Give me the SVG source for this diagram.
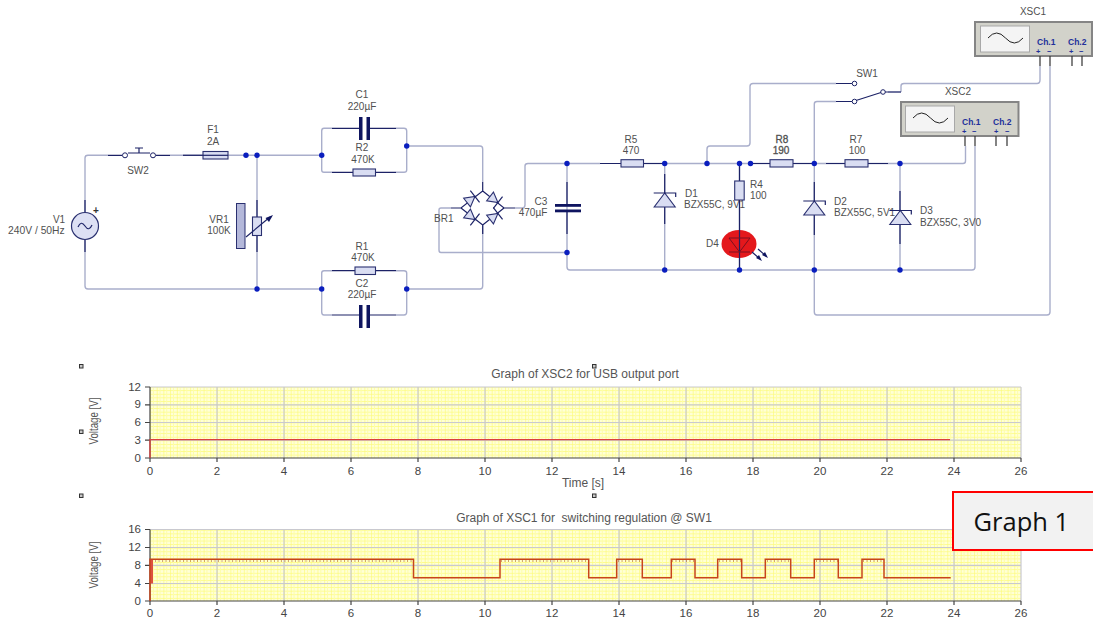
<svg xmlns="http://www.w3.org/2000/svg" width="1093" height="620" viewBox="0 0 1093 620">
<style>
text{font-family:"Liberation Sans",Arial,sans-serif;font-size:10px;fill:#505050}
.m{text-anchor:middle}
.e{text-anchor:end}
.w{fill:none;stroke:#a9aecb;stroke-width:1.4;stroke-linejoin:round}
.l{fill:none;stroke:#1c2266;stroke-width:1.2}
.b{fill:#d9ddf2;stroke:#2a3070;stroke-width:1.1}
.plate{fill:#0f1560;stroke:none}
.dot{fill:#0a1ebe}
.tick{font-size:11.5px;fill:#444}
.ttl{font-size:12px;fill:#555}
.ch{font-size:8.500px;font-weight:bold;fill:#22309a}
.sg{font-size:7.500px;font-weight:bold;fill:#22309a}
.axis{fill:none;stroke:#444;stroke-width:1.2}
.major{fill:none;stroke:#c9c9cf;stroke-width:1.2}
.t1{fill:none;stroke:#dc3f3f;stroke-width:1.3}
.t2{fill:none;stroke:#c8451c;stroke-width:1.5}
.ripple{fill:none;stroke:#a8501c;stroke-width:1;stroke-dasharray:1 2.500}
.handle{fill:#c8c8c8;stroke:#333;stroke-width:1}
.scope{fill:#d2d2ca;stroke:#858585;stroke-width:2}
.screen{fill:#f4f4f4;stroke:#a8a8a8;stroke-width:1}
.pin{fill:none;stroke:#333;stroke-width:1.2}
.sine{fill:none;stroke:#222;stroke-width:1}
</style>
<defs>
<pattern id="grid" x="150" y="0" width="6.7" height="3.58" patternUnits="userSpaceOnUse">
<rect width="6.7" height="3.58" fill="#ffffd6"/>
<path d="M0 0V3.58M0 0H6.7" stroke="#fdfb78" stroke-width="1.3" fill="none"/>
<path d="M3.35 0V3.58" stroke="#fefea8" stroke-width="1" fill="none"/>
</pattern>
<circle id="n" class="dot" r="2.700"/>
<g id="zener"><path class="b" d="M0 0L-10.500 14H10.500Z"/><path class="l" d="M-11 0H11V4"/></g>
<g id="br"><path class="b" d="M-5 -5.500V5.500L5 0Z"/><path class="l" d="M5 -7.500V7.500"/></g>
</defs>

<g id="connectors">
<path class="w" d="M85 212V158Q85 155.300 88 155.300H108M170 155.300H203M228 155.300H321.700M257 155.300V289M85 240V286Q85 289 88 289H321.700"/>
<path class="w" d="M321.700 155.300V131Q321.700 128.300 324 128.300H332M396 128.300H404Q406.700 128.300 406.700 131V170Q406.700 172.300 404 172.300H396M332 172.300H324Q321.700 172.300 321.700 170V155"/>
<path class="w" d="M321.700 289V273Q321.700 270.700 324 270.700H332M396 270.700H404Q406.700 270.700 406.700 273V312Q406.700 315 404 315H396M332 315H324Q321.700 315 321.700 312V289"/>
<path class="w" d="M406.700 146H480Q482.700 146 482.700 149V182M482.700 225V286Q482.700 289 480 289H406.700"/>
<path class="w" d="M451 208H441Q439 208 439 210V250Q439 252.500 441 252.500H567M515 208H522Q525 208 525 205V166Q525 163.500 528 163.500H600M643 163.500H770M793.500 163.500H845M868 163.500H963Q965.500 163.500 965.500 161V146"/>
<path class="w" d="M567 163.500V267Q567 270 570 270H972Q975 270 975 267V146"/>
<path class="w" d="M664.700 163.500V270M739.500 163.500V270M814.300 104V312Q814.300 315 817 315H1047Q1050 315 1050 312V66M900 163.500V270"/>
<path class="w" d="M707 163.500V149Q707 146 710 146H747Q750 146 750 143V86.500Q750 83.500 753 83.500H836M814.300 104Q814.300 101.500 817 101.500H836M901 92V86Q901 83.500 904 83.500H1037Q1040 83.500 1040 80V66M888 92H901"/>
</g>

<g id="V1"><circle cx="85" cy="226" r="13.500" fill="#dde0f4" stroke="#2a3070" stroke-width="1.200"/><path class="l" d="M78 227Q81 220 85 226T92 225"/><path class="l" d="M85 200V212M85 240V252"/><text x="93" y="214" style="font-size:10px;font-weight:bold;fill:#333">+</text><text class="m" x="59" y="223">V1</text><text x="8" y="234" style="font-size:10.300px">240V / 50Hz</text></g>
<g id="SW2"><path class="l" d="M108 155.300H122M156 155.300H170M128 153H150M139 153V148M135 148H143"/><circle cx="125" cy="155.300" r="2.500" fill="#fff" stroke="#1c2266"/><circle cx="153" cy="155.300" r="2.500" fill="#fff" stroke="#1c2266"/><text class="m" x="138" y="174">SW2</text></g>
<g id="F1"><path class="l" d="M183 155.300H203"/><rect class="b" x="203" y="151.500" width="25" height="7.500"/><path class="l" d="M203 155.300H228"/><text class="m" x="213" y="133">F1</text><text class="m" x="213" y="145">2A</text></g>
<g id="VR1"><rect x="236.500" y="203.500" width="8.500" height="45" fill="#b4b8da" stroke="#2a3070"/><path class="l" d="M257 200V217M257 235.500V252"/><rect class="b" x="252.500" y="217" width="9" height="18.500"/><path class="l" d="M246 237L270 217"/><path class="plate" d="M273 215L265.500 218L269 222Z"/><text class="m" x="219" y="223">VR1</text><text class="m" x="219" y="234">100K</text></g>
<g id="C1"><path class="l" d="M332 128.300H359M370 128.300H396"/><path class="plate" d="M359 117H362.500V140H359ZM366.500 117H370V140H366.500Z"/><text class="m" x="362" y="98">C1</text><text class="m" x="362" y="110">220µF</text></g>
<g id="R2"><path class="l" d="M332 172.300H353M376 172.300H396"/><rect class="b" x="353" y="169" width="22.500" height="7"/><text class="m" x="362" y="151">R2</text><text class="m" x="363" y="163">470K</text></g>
<g id="R1"><path class="l" d="M332 270.700H355M376 270.700H396"/><rect class="b" x="355" y="267" width="20.500" height="7.500"/><text class="m" x="362" y="250">R1</text><text class="m" x="363" y="261">470K</text></g>
<g id="C2"><path class="l" d="M332 315H359M370 315H396"/><path class="plate" d="M359 305H362.500V328H359ZM366.500 305H370V328H366.500Z"/><text class="m" x="362" y="287">C2</text><text class="m" x="362" y="298">220µF</text></g>
<g id="BR1"><path class="l" d="M482.700 182V191L461 208H451M482.700 191L504 208H515M461 208L482.700 225L504 208M482.700 225V234"/><use href="#br" transform="translate(471 199.500) rotate(-38)"/><use href="#br" transform="translate(494 199.500) rotate(38)"/><use href="#br" transform="translate(471 216.500) rotate(38)"/><use href="#br" transform="translate(494 216.500) rotate(-38)"/><text x="434" y="222">BR1</text></g>
<g id="C3"><path class="l" d="M567 182V205M567 211V234"/><rect class="plate" x="555" y="204" width="26" height="2.800"/><rect class="plate" x="555" y="209.500" width="26" height="2.800"/><text class="m" x="541" y="205">C3</text><text class="m" x="533" y="216">470µF</text></g>
<g id="R5"><path class="l" d="M600 163.500H621M643 163.500H664"/><rect class="b" x="621" y="159.700" width="22.500" height="7.300"/><text class="m" x="631" y="143">R5</text><text class="m" x="631" y="154">470</text></g>
<g id="D1"><path class="l" d="M664.700 174V224"/><use href="#zener" x="664.700" y="193"/><text x="685" y="197">D1</text><text x="684" y="208">BZX55C, 9V1</text></g>
<g id="R8"><path class="l" d="M750 163.500H770M793 163.500H814"/><rect class="b" x="770" y="159.700" width="23" height="7.300"/><text class="m" x="782" y="143" style="stroke:#505050;stroke-width:.3">R8</text><text class="m" x="781" y="154" style="stroke:#505050;stroke-width:.3">190</text></g>
<g id="R7"><path class="l" d="M826 163.500H845M868 163.500H888"/><rect class="b" x="845" y="159.700" width="23" height="7.300"/><text class="m" x="856" y="143">R7</text><text class="m" x="857" y="154">100</text></g>
<g id="R4"><path class="l" d="M739.500 163.500V181M739.500 200V222"/><rect class="b" x="734.700" y="181" width="9.500" height="19"/><text x="750" y="188">R4</text><text x="750" y="199">100</text></g>
<g id="D4"><ellipse cx="739" cy="244" rx="17.500" ry="14" fill="#e4181c"/><path d="M739.500 222V270" class="l"/><path d="M729 238H750L739.500 252Z M729 252H750" fill="none" stroke="#7a1020" stroke-width="1"/><path class="l" d="M752 252L760 259M758 249L766 256"/><path class="plate" d="M762 261L756 258L759 255ZM768 258L762 255L765 252Z"/><text x="706" y="247">D4</text></g>
<g id="D2"><path class="l" d="M814.300 182V235"/><use href="#zener" x="814.300" y="201"/><text x="834" y="205">D2</text><text x="834" y="216">BZX55C, 5V1</text></g>
<g id="D3"><path class="l" d="M900 191V244"/><use href="#zener" x="900.300" y="210.500"/><text x="920" y="214">D3</text><text x="920" y="226">BZX55C, 3V0</text></g>
<g id="SW1"><path class="l" d="M836 83.500H852M836 101.500H852M856 100.500L881 92.500M885 92H901"/><circle cx="854.500" cy="83.500" r="2.300" fill="#fff" stroke="#1c2266"/><circle cx="854.500" cy="101.500" r="2.300" fill="#fff" stroke="#1c2266"/><circle cx="883" cy="92" r="2.300" fill="#fff" stroke="#1c2266"/><text class="m" x="867" y="77">SW1</text></g>
<g id="XSC1"><rect class="scope" x="975" y="22" width="117" height="34"/><rect class="screen" x="980.500" y="26" width="49" height="26"/><path class="sine" d="M988 38Q996.500 28 1005.500 38T1023 38"/><text class="ch" x="1037" y="44.500">Ch.1</text><text class="ch" x="1068" y="44.500">Ch.2</text><text class="sg" x="1036" y="53.500">+</text><text class="sg" x="1047" y="53.500">−</text><text class="sg" x="1069" y="53.500">+</text><text class="sg" x="1079" y="53.500">−</text><path class="pin" d="M1040 56V66M1050 56V66M1072 56V66M1082 56V66"/><text class="m" x="1033" y="15">XSC1</text></g>
<g id="XSC2"><rect class="scope" x="901" y="102" width="117.500" height="34"/><rect class="screen" x="905.500" y="106" width="49" height="26"/><path class="sine" d="M913 118Q921.500 108 930.500 118T948 118"/><text class="ch" x="962" y="124.500">Ch.1</text><text class="ch" x="993" y="124.500">Ch.2</text><text class="sg" x="962" y="133.500">+</text><text class="sg" x="972" y="133.500">−</text><text class="sg" x="994" y="133.500">+</text><text class="sg" x="1005" y="133.500">−</text><path class="pin" d="M965 136V146M975 136V146M996 136V146M1007 136V146"/><text class="m" x="958" y="95">XSC2</text></g>
<g id="junctions">
<use href="#n" x="246" y="155.300"/><use href="#n" x="257" y="155.300"/><use href="#n" x="257" y="289"/><use href="#n" x="321.700" y="155.300"/><use href="#n" x="321.700" y="289"/><use href="#n" x="406.700" y="146"/><use href="#n" x="406.700" y="289"/><use href="#n" x="567" y="163.500"/><use href="#n" x="567" y="252.500"/><use href="#n" x="664.700" y="163.500"/><use href="#n" x="664.700" y="270"/><use href="#n" x="707" y="163.500"/><use href="#n" x="739.500" y="163.500"/><use href="#n" x="750.500" y="163.500"/><use href="#n" x="739.500" y="270"/><use href="#n" x="814.300" y="163.500"/><use href="#n" x="814.300" y="270"/><use href="#n" x="900" y="163.500"/><use href="#n" x="900" y="270"/>
</g>

<g id="graph-xsc2">
<rect x="150" y="387" width="871" height="71" fill="url(#grid)"/>
<path class="major" d="M150 387H1021M150 404.800H1021M150 422.500H1021M150 440.200H1021M217 387V458M284 387V458M351 387V458M418 387V458M485 387V458M552 387V458M619 387V458M686 387V458M753 387V458M820 387V458M887 387V458M954 387V458M1021 387V458"/>
<path class="axis" d="M145 387H150M145 404.800H150M145 422.500H150M145 440.200H150M145 458H1021M150 387V462M217 458V462M284 458V462M351 458V462M418 458V462M485 458V462M552 458V462M619 458V462M686 458V462M753 458V462M820 458V462M887 458V462M954 458V462M1021 458V462"/>
<path class="t1" d="M150 458V439.700H950"/>
<text class="tick e" x="141" y="391">12</text><text class="tick e" x="141" y="408">9</text><text class="tick e" x="141" y="426">6</text><text class="tick e" x="141" y="444">3</text><text class="tick e" x="141" y="462">0</text>
<text class="tick m" x="150" y="475">0</text><text class="tick m" x="217" y="475">2</text><text class="tick m" x="284" y="475">4</text><text class="tick m" x="351" y="475">6</text><text class="tick m" x="418" y="475">8</text><text class="tick m" x="485" y="475">10</text><text class="tick m" x="552" y="475">12</text><text class="tick m" x="619" y="475">14</text><text class="tick m" x="686" y="475">16</text><text class="tick m" x="753" y="475">18</text><text class="tick m" x="820" y="475">20</text><text class="tick m" x="887" y="475">22</text><text class="tick m" x="954" y="475">24</text><text class="tick m" x="1021" y="475">26</text>
<text class="ttl m" x="585" y="378">Graph of XSC2 for USB output port</text>
<text class="ttl m" x="583" y="487">Time [s]</text>
<text class="ttl m" transform="translate(97.500 421) rotate(-90)" textLength="47" lengthAdjust="spacingAndGlyphs">Voltage [V]</text>
</g>

<g id="graph-xsc1">
<rect x="150" y="529.500" width="871" height="71.500" fill="url(#grid)"/>
<path class="major" d="M150 529.500H1021M150 547.500H1021M150 565.300H1021M150 583.500H1021M217 529.500V601M284 529.500V601M351 529.500V601M418 529.500V601M485 529.500V601M552 529.500V601M619 529.500V601M686 529.500V601M753 529.500V601M820 529.500V601M887 529.500V601M954 529.500V601M1021 529.500V601"/>
<path class="axis" d="M145 529.500H150M145 547.500H150M145 565.300H150M145 583.500H150M145 601H1021M150 529.500V605M217 601V605M284 601V605M351 601V605M418 601V605M485 601V605M552 601V605M619 601V605M686 601V605M753 601V605M820 601V605M887 601V605M954 601V605M1021 601V605"/>
<path fill="#dc5040" d="M150 559.500H153V583.500H150Z"/>
<path class="ripple" d="M155 561H413M501 561H588M618 561H642M672 561H695M719 561H741M767 561H790M816 561H838M863 561H884"/>
<path class="t2" d="M150 601V559.300H413.500V577.700H500V559.300H588.700V577.700H616.700V559.300H642.300V577.700H671.300V559.300H695V577.700H717.700V559.300H741.700V577.700H765.300V559.300H790.700V577.700H814.300V559.300H838.300V577.700H862V559.300H884V577.700H950.700"/>
<text class="tick e" x="141" y="533">16</text><text class="tick e" x="141" y="551">12</text><text class="tick e" x="141" y="569">8</text><text class="tick e" x="141" y="587">4</text><text class="tick e" x="141" y="605">0</text>
<text class="tick m" x="150" y="617">0</text><text class="tick m" x="217" y="617">2</text><text class="tick m" x="284" y="617">4</text><text class="tick m" x="351" y="617">6</text><text class="tick m" x="418" y="617">8</text><text class="tick m" x="485" y="617">10</text><text class="tick m" x="552" y="617">12</text><text class="tick m" x="619" y="617">14</text><text class="tick m" x="686" y="617">16</text><text class="tick m" x="753" y="617">18</text><text class="tick m" x="820" y="617">20</text><text class="tick m" x="887" y="617">22</text><text class="tick m" x="954" y="617">24</text><text class="tick m" x="1021" y="617">26</text>
<text class="ttl m" x="584" y="522" xml:space="preserve">Graph of XSC1 for  switching regulation @ SW1</text>
<text class="ttl m" transform="translate(97.500 565) rotate(-90)" textLength="47" lengthAdjust="spacingAndGlyphs">Voltage [V]</text>
</g>
<g id="handles"><rect class="handle" x="79.500" y="364.500" width="3.500" height="3.500"/><rect class="handle" x="592.500" y="364.500" width="3.500" height="3.500"/><rect class="handle" x="79.500" y="430" width="3.500" height="3.500"/><rect class="handle" x="79.500" y="494" width="3.500" height="3.500"/><rect class="handle" x="592.500" y="494" width="3.500" height="3.500"/></g>
<g id="graph-label"><rect x="953" y="492" width="145" height="58" fill="#f2f2f2" stroke="#ff0000" stroke-width="2"/><text x="973.500" y="530.500" style="font-family:'Open Sans','Noto Sans',sans-serif;font-size:25.500px;fill:#111">Graph 1</text></g>
</svg>
